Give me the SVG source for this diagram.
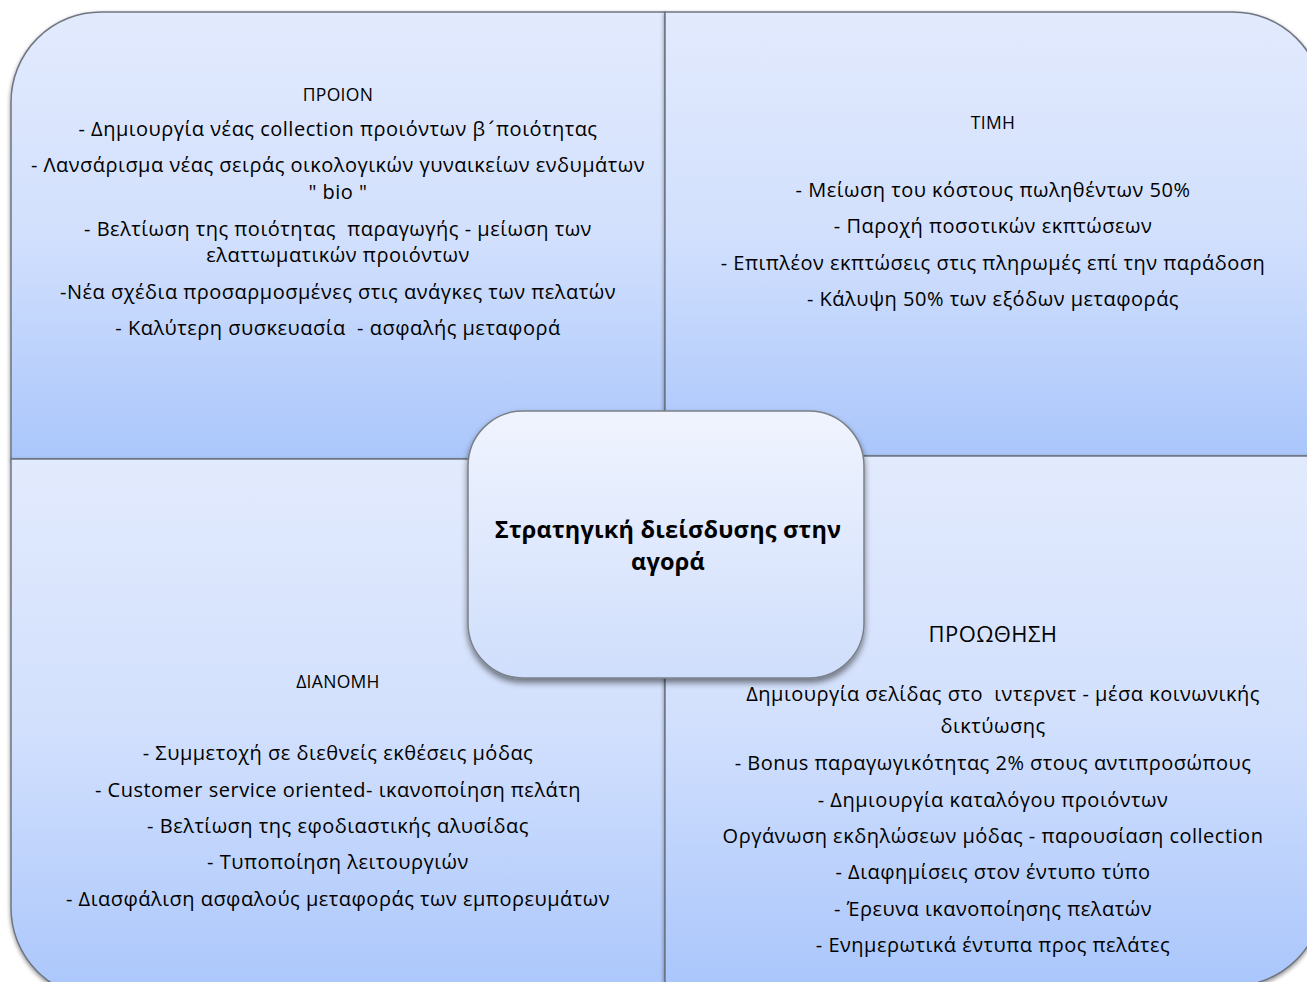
<svg xmlns="http://www.w3.org/2000/svg" width="1307" height="982" viewBox="0 0 1307 982">
  <defs>
    <linearGradient id="quadFill" x1="0" y1="0" x2="0" y2="1">
      <stop offset="0" stop-color="#e2eafd"/>
      <stop offset="0.5" stop-color="#d2e0fd"/>
      <stop offset="1" stop-color="#aac6fb"/>
    </linearGradient>
    <linearGradient id="centerFill" x1="0" y1="0" x2="0" y2="1">
      <stop offset="0" stop-color="#f0f4fe"/>
      <stop offset="1" stop-color="#cfdefc"/>
    </linearGradient>
    <filter id="shadow" x="-5%" y="-5%" width="110%" height="115%">
      <feGaussianBlur in="SourceAlpha" stdDeviation="2"/>
      <feOffset dx="0" dy="2" result="b"/>
      <feComponentTransfer><feFuncA type="linear" slope="0.45"/></feComponentTransfer>
      <feMerge><feMergeNode/><feMergeNode in="SourceGraphic"/></feMerge>
    </filter>
    <filter id="centerShadow" x="-10%" y="-10%" width="120%" height="125%">
      <feGaussianBlur in="SourceAlpha" stdDeviation="3"/>
      <feOffset dx="0" dy="4" result="b"/>
      <feComponentTransfer><feFuncA type="linear" slope="0.5"/></feComponentTransfer>
      <feMerge><feMergeNode/><feMergeNode in="SourceGraphic"/></feMerge>
    </filter>
  </defs>
  <style>
    .quad { fill: url(#quadFill); stroke: #6f7682; stroke-width: 1.5; filter: url(#shadow); }
    .center { fill: url(#centerFill); stroke: #7a8088; stroke-width: 1.5; filter: url(#centerShadow); }
    text { font-family: "Open Sans", "Noto Sans", "DejaVu Sans", sans-serif; fill: #000; text-anchor: middle; white-space: pre; }
    .item { font-size: 20px; letter-spacing: 0.5px; }
    .head { font-size: 17.5px; letter-spacing: 0.3px; }
    .head-lg { font-size: 22px; letter-spacing: 0.4px; }
    .title { font-size: 23.5px; font-weight: bold; letter-spacing: 0.2px; }
    .mark { font-family: "DejaVu Sans", sans-serif; }
  </style>

  <rect width="1307" height="982" fill="#ffffff"/>

  <!-- Product quadrant (top left) -->
  <g id="product">
    <path class="quad" d="M11,102 A90,90 0 0 1 101,12 L665,12 L665,459 L11,459 Z"/>
    <text class="head" x="338" y="101">ΠΡΟΙΟΝ</text>
    <text class="item" x="338" y="136">- Δημιουργία νέας collection προιόντων β<tspan class="mark">΄</tspan>ποιότητας</text>
    <text class="item" x="338" y="172">- Λανσάρισμα νέας σειράς οικολογικών γυναικείων ενδυμάτων</text>
    <text class="item" x="338" y="199">" bio "</text>
    <text class="item" x="338" y="236">- Βελτίωση της ποιότητας  παραγωγής - μείωση των</text>
    <text class="item" x="338" y="262">ελαττωματικών προιόντων</text>
    <text class="item" x="338" y="299">-Νέα σχέδια προσαρμοσμένες στις ανάγκες των πελατών</text>
    <text class="item" x="338" y="335">- Καλύτερη συσκευασία  - ασφαλής μεταφορά</text>
  </g>

  <!-- Price quadrant (top right) -->
  <g id="price">
    <path class="quad" d="M665,12 L1233,12 A90,90 0 0 1 1323,102 L1323,456 L665,456 Z"/>
    <text class="head" x="993" y="129">ΤΙΜΗ</text>
    <text class="item" x="993" y="197">- Μείωση του κόστους πωληθέντων 50%</text>
    <text class="item" x="993" y="233">- Παροχή ποσοτικών εκπτώσεων</text>
    <text class="item" x="993" y="270">- Επιπλέον εκπτώσεις στις πληρωμές επί την παράδοση</text>
    <text class="item" x="993" y="306">- Κάλυψη 50% των εξόδων μεταφοράς</text>
  </g>

  <!-- Distribution quadrant (bottom left) -->
  <g id="distribution">
    <path class="quad" d="M11,459 L665,459 L665,998 L101,998 A90,90 0 0 1 11,908 Z"/>
    <text class="head" x="338" y="688">ΔΙΑΝΟΜΗ</text>
    <text class="item" x="338" y="760">- Συμμετοχή σε διεθνείς εκθέσεις μόδας</text>
    <text class="item" x="338" y="797">- Customer service oriented- ικανοποίηση πελάτη</text>
    <text class="item" x="338" y="833">- Βελτίωση της εφοδιαστικής αλυσίδας</text>
    <text class="item" x="338" y="869">- Τυποποίηση λειτουργιών</text>
    <text class="item" x="338" y="906">- Διασφάλιση ασφαλούς μεταφοράς των εμπορευμάτων</text>
  </g>

  <!-- Promotion quadrant (bottom right) -->
  <g id="promotion">
    <path class="quad" d="M665,456 L1323,456 L1323,896 A90,90 0 0 1 1233,986 L665,986 Z"/>
    <text class="head-lg" x="993" y="642">ΠΡΟΩΘΗΣΗ</text>
    <text class="item" x="1003" y="701">Δημιουργία σελίδας στο  ιντερνετ - μέσα κοινωνικής</text>
    <text class="item" x="993" y="733">δικτύωσης</text>
    <text class="item" x="993" y="770">- Bonus παραγωγικότητας 2% στους αντιπροσώπους</text>
    <text class="item" x="993" y="807">- Δημιουργία καταλόγου προιόντων</text>
    <text class="item" x="993" y="843">Οργάνωση εκδηλώσεων μόδας - παρουσίαση collection</text>
    <text class="item" x="993" y="879">- Διαφημίσεις στον έντυπο τύπο</text>
    <text class="item" x="993" y="916">- Έρευνα ικανοποίησης πελατών</text>
    <text class="item" x="993" y="952">- Ενημερωτικά έντυπα προς πελάτες</text>
  </g>

  <!-- Central strategy node -->
  <g id="strategy">
    <rect class="center" x="468" y="411" width="396" height="267" rx="55" ry="55"/>
    <text class="title" x="668" y="538">Στρατηγική διείσδυσης στην</text>
    <text class="title" x="668" y="570">αγορά</text>
  </g>

  <g id="connectors"/>
</svg>
